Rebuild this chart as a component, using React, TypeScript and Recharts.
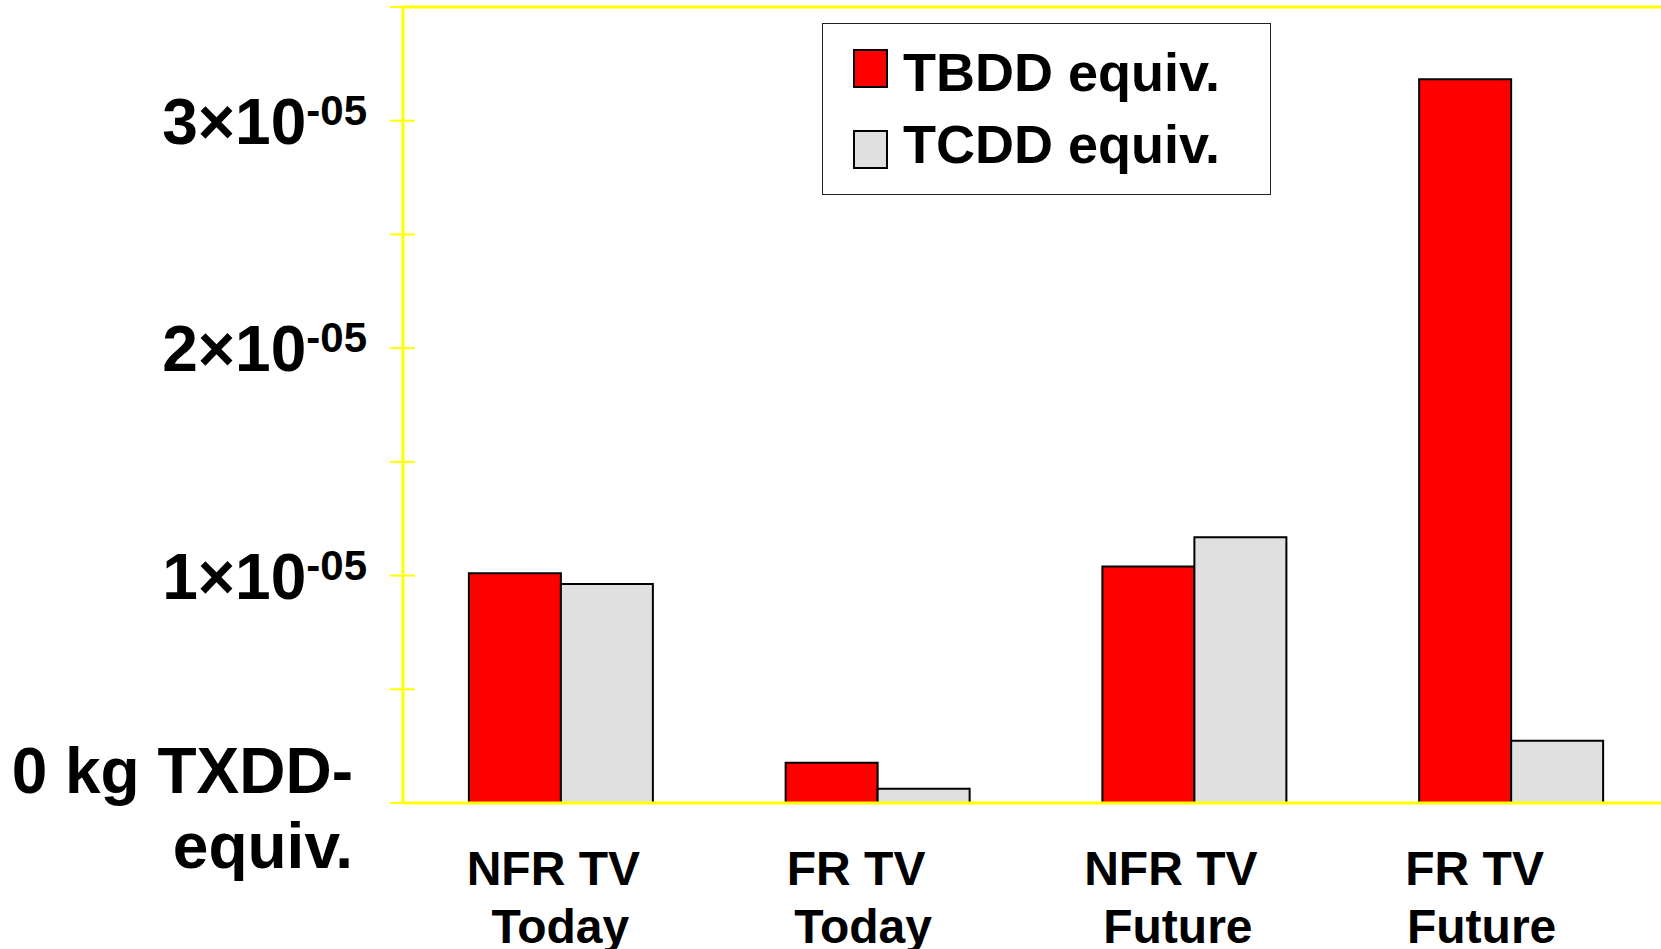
import { Bar, BarChart, Legend, ReferenceLine, XAxis, YAxis } from "recharts";

const categories = ["NFR TV\nToday", "FR TV\nToday", "NFR TV\nFuture", "FR TV\nFuture"];
const tbdd = [1.01e-5, 0.177e-5, 1.04e-5, 3.182e-5];
const tcdd = [0.963e-5, 0.063e-5, 1.168e-5, 0.274e-5];
const yTicks = [0, 0.5e-5, 1e-5, 1.5e-5, 2e-5, 2.5e-5, 3e-5, 3.5e-5];
const yTickLabels = ["0 kg TXDD-\nequiv.", "", "1×10", "", "2×10", "", "3×10", ""];
const yExponent = "-05";
// labels in the original sit a little left of their bar groups
const xLabelShift = [-1, -15, -17, -30];

const series = [
  { key: "tbdd", name: "TBDD equiv.", color: "#ff0000" },
  { key: "tcdd", name: "TCDD equiv.", color: "#e0e0e0" },
];

const data = categories.map((c, i) => ({ name: c, tbdd: tbdd[i], tcdd: tcdd[i] }));

const FONT = "Arial, 'Liberation Sans', sans-serif";
const AXIS = "#ffff00";

function YTick(props: any) {
  const { x, y, index } = props;
  const label = yTickLabels[index] ?? "";
  return (
    <g>
      <line x1={x - 13} x2={x + 12} y1={y} y2={y} stroke={AXIS} strokeWidth={2} />
      {label.includes("\n") ? (
        <text x={x - 50} y={y - 10} textAnchor="end" fontFamily={FONT} fontWeight="bold" fontSize={64} fill="#000">
          {label.split("\n").map((line, i) => (
            <tspan key={i} x={x - 50} dy={i === 0 ? 0 : 75}>
              {line}
            </tspan>
          ))}
        </text>
      ) : label ? (
        <text x={x - 36} y={y + 23} textAnchor="end" fontFamily={FONT} fontWeight="bold" fill="#000">
          <tspan fontSize={64}>{label}</tspan>
          <tspan fontSize={42} dy={-19}>
            {yExponent}
          </tspan>
        </text>
      ) : null}
    </g>
  );
}

function XTick(props: any) {
  const { x, y, payload, index } = props;
  const lines = String(payload.value).split("\n");
  const cx = x + (xLabelShift[index] ?? 0);
  return (
    <text y={y + 82} textAnchor="middle" fontFamily={FONT} fontWeight="bold" fontSize={48} fill="#000">
      {lines.map((line, i) => (
        <tspan key={i} x={i === 0 ? cx - 7 : cx} dy={i === 0 ? 0 : 58}>
          {line}
        </tspan>
      ))}
    </text>
  );
}

function LegendBox() {
  return (
    <svg width={449} height={172} style={{ display: "block" }}>
      <rect x={0.5} y={0.5} width={448} height={171} fill="#fff" stroke="#222" strokeWidth={1} />
      {series.map((s, i) => (
        <g key={s.key}>
          <rect x={32} y={27 + i * 81} width={33} height={37} fill={s.color} stroke="#000" strokeWidth={2} />
          <text x={81} y={68 + i * 72} fontFamily={FONT} fontWeight="bold" fontSize={54} fill="#000">
            {s.name}
          </text>
        </g>
      ))}
    </svg>
  );
}

export default function App() {
  return (
    <div style={{ position: "absolute", left: 0, top: 0, width: 1661, height: 949, background: "#fff", overflow: "hidden" }}>
      <BarChart
        width={1661}
        height={949}
        data={data}
        margin={{ top: 7, right: -9, left: 0, bottom: 0 }}
        barCategoryGap="20.8%"
        barGap={0}
      >
        <XAxis
          dataKey="name"
          height={146}
          axisLine={{ stroke: AXIS, strokeWidth: 3 }}
          tickLine={false}
          tickSize={0}
          tickMargin={0}
          interval={0}
          tick={<XTick />}
        />
        <YAxis
          width={403}
          domain={[0, 3.5e-5]}
          ticks={yTicks}
          interval={0}
          axisLine={{ stroke: AXIS, strokeWidth: 3 }}
          tickLine={false}
          tickSize={0}
          tickMargin={0}
          tick={<YTick />}
        />
        <ReferenceLine y={3.5e-5} stroke={AXIS} strokeWidth={3} />
        <Legend
          layout="vertical"
          align="center"
          verticalAlign="middle"
          content={() => <LegendBox />}
          wrapperStyle={{ position: "absolute", left: 822, top: 23, width: 449, height: 172 }}
        />
        {series.map((s) => (
          <Bar
            key={s.key}
            dataKey={s.key}
            name={s.name}
            fill={s.color}
            stroke="#000"
            strokeWidth={2}
            isAnimationActive={false}
          />
        ))}
      </BarChart>
    </div>
  );
}
